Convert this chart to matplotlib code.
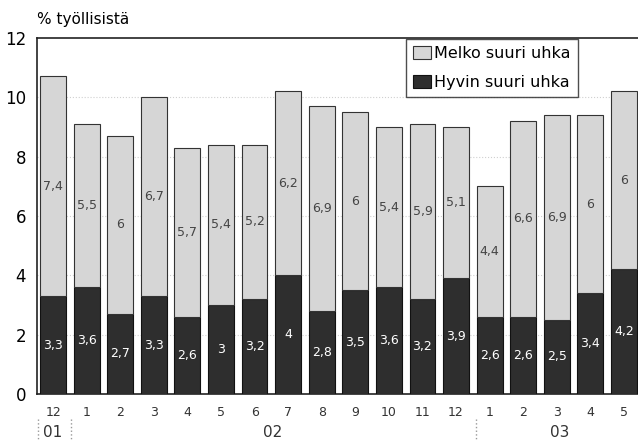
import matplotlib.pyplot as plt
import numpy as np

# kuukaudet ja vuodet
kuukaudet = ['12', '1', '2', '3', '4', '5', '6', '7', '8', '9', '10', '11', '12',
             '1', '2', '3', '4', '5']
vuodet = ['01', '02', '03']
vuosi_keskikohta = [0, 6.55, 15.1]
vuosi_rajat = [-0.45, 0.52, 12.6]

# Hyvin suuri uhka (alaosa) ja Melko suuri uhka (yläosa)
hyvin = [3.3, 3.6, 2.7, 3.3, 2.6, 3, 3.2, 4, 2.8, 3.5, 3.6, 3.2, 3.9,
         2.6, 2.6, 2.5, 3.4, 4.2]
melko = [7.4, 5.5, 6, 6.7, 5.7, 5.4, 5.2, 6.2, 6.9, 6, 5.4, 5.9, 5.1,
         4.4, 6.6, 6.9, 6, 6]

plt.rcParams['font.family'] = ['Liberation Sans Narrow', 'DejaVu Sans']

fig = plt.figure(figsize=(6.38, 4.41), dpi=100)
ax = fig.add_axes([0.058, 0.1066, 0.942, 0.8074])

x = np.arange(len(kuukaudet))
leveys = 0.77
ax.bar(x, hyvin, leveys, color='#2e2e2e', edgecolor='#111111', linewidth=0.8,
       label='Hyvin suuri uhka', zorder=3)
ax.bar(x, melko, leveys, bottom=hyvin, color='#d6d6d6', edgecolor='#333333',
       linewidth=0.8, label='Melko suuri uhka', zorder=3)

def muotoile(v):
    s = ('%g' % v).replace('.', ',')
    return s

for i in range(len(x)):
    ax.text(x[i], hyvin[i] / 2, muotoile(hyvin[i]), ha='center', va='center',
            color='white', fontsize=9, zorder=4)
    ax.text(x[i], hyvin[i] + melko[i] / 2, muotoile(melko[i]), ha='center',
            va='center', color='#444444', fontsize=9, zorder=4)

ax.set_ylim(0, 12)
ax.set_xlim(-0.48, 17.42)
ax.set_yticks([0, 2, 4, 6, 8, 10, 12])
ax.tick_params(axis='y', length=0, labelsize=12, pad=8)
ax.set_xticks(x)
ax.set_xticklabels(kuukaudet)
ax.tick_params(axis='x', length=0, labelsize=9, colors='#333333', pad=9)
for yy in [2, 4, 6, 8, 10]:
    ax.axhline(yy, color='#d0d0d0', linestyle=':', linewidth=0.8, zorder=1)

ax.spines['right'].set_visible(False)
for s in ['left', 'top', 'bottom']:
    ax.spines[s].set_linewidth(1.2)
    ax.spines[s].set_color('#222222')

# vuodet
for i, v in enumerate(vuodet):
    ax.text(vuosi_keskikohta[i], -1.05, v, ha='center', va='top', fontsize=11,
            color='#333333', transform=ax.transData)
for r in vuosi_rajat:
    ax.plot([r, r], [-0.85, -1.6], color='#999999', linestyle=':', linewidth=1,
            clip_on=False)

fig.text(0.058, 0.955, '% työllisistä', fontsize=11, ha='left', va='center')

kahvat, nimet = ax.get_legend_handles_labels()
leg = ax.legend(kahvat[::-1], nimet[::-1], loc='upper left',
                bbox_to_anchor=(0.614, 0.997), fontsize=11.5, frameon=True,
                fancybox=False, edgecolor='#222222', handlelength=1.1,
                handleheight=0.9, handletextpad=0.2, borderpad=0.45,
                borderaxespad=0.0, labelspacing=0.85)
leg.get_frame().set_linewidth(1.0)

plt.savefig('out.png', dpi=100)
